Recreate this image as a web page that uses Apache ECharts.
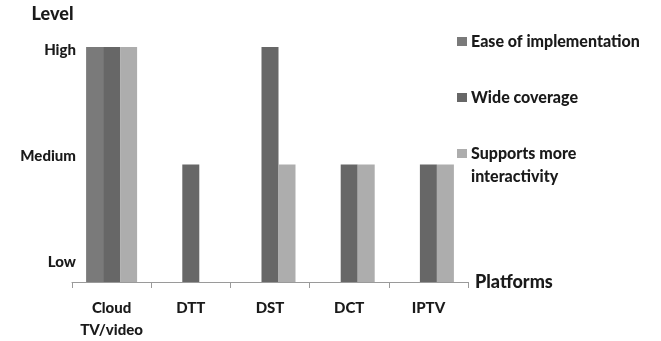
<!DOCTYPE html>
<html><head><meta charset="utf-8">
<script src="https://cdn.jsdelivr.net/npm/echarts@6/dist/echarts.min.js"></script>
<style>html,body{margin:0;padding:0;background:#fff}#c{width:661px;height:341px}</style>
</head><body><div id="c"></div>
<script>
const categories = ['Cloud\nTV/video', 'DTT', 'DST', 'DCT', 'IPTV'];
const levelLabels = ['Low', 'Medium', 'High'];
const seriesNames = ['Ease of implementation', 'Wide coverage', 'Supports more interactivity'];
const easeOfImplementation = [2, 0, 0, 0, 0];
const wideCoverage = [2, 1, 2, 1, 1];
const supportsInteractivity = [2, 0, 1, 1, 1];
const colors = ['#7a7a7a', '#676767', '#adadad'];

const font = 'Lato, "Open Sans", sans-serif';
const txt = '#1a1a1a';
const fw = 900;
const chart = echarts.init(document.getElementById('c'));
const values = [easeOfImplementation, wideCoverage, supportsInteractivity];
const legendText = {
  'Ease of implementation': '\u00a0\nEase of implementation\n\u00a0',
  'Wide coverage': '\u00a0\nWide coverage\n\u00a0',
  'Supports more interactivity': '\u00a0\nSupports more\ninteractivity'
};
chart.setOption({
  animation: false,
  textStyle: {fontFamily: font},
  grid: [
    {left: 72, right: 193, top: 47, bottom: 56},
    {left: 85, right: 193, top: 50, bottom: 79}
  ],
  legend: {
    orient: 'vertical', left: 457, top: 7, padding: 0,
    itemWidth: 10, itemHeight: 9, itemGap: -13,
    icon: 'rect',
    data: seriesNames,
    formatter: n => legendText[n],
    textStyle: {fontFamily: font, fontSize: 16, fontWeight: fw, color: txt, lineHeight: 23, padding: [0,0,0,-1]}
  },
  xAxis: [
    {type: 'category', gridIndex: 0, data: categories,
     axisLine: {lineStyle: {color: '#9a9a9a'}},
     axisTick: {show: true, length: 6, interval: 0, lineStyle: {color: '#9a9a9a'}},
     axisLabel: {interval: 0, margin: 15, fontSize: 15, fontWeight: fw, color: txt, lineHeight: 22, fontFamily: font},
     name: 'Platforms', nameLocation: 'end', nameGap: 7,
     nameTextStyle: {fontSize: 18, fontWeight: fw, color: txt, padding: [24,0,0,0], fontFamily: font}},
    {type: 'value', gridIndex: 1, show: false}
  ],
  yAxis: [
    {type: 'value', gridIndex: 0, min: 0, max: 2, interval: 1, show: false},
    {type: 'category', gridIndex: 1, data: levelLabels, boundaryGap: false,
     axisLine: {show: false}, axisTick: {show: false}, splitLine: {show: false},
     axisLabel: {interval: 0, margin: 9, fontSize: 15, fontWeight: fw, color: txt, fontFamily: font},
     name: 'Level', nameLocation: 'end', nameGap: 27,
     nameTextStyle: {fontSize: 18, fontWeight: fw, color: txt, padding: [0,65,0,0], fontFamily: font}}
  ],
  series: seriesNames.map((n, i) => ({
    name: n, type: 'bar', xAxisIndex: 0, yAxisIndex: 0,
    data: values[i], barWidth: 17, barGap: '0%',
    itemStyle: {color: colors[i]}
  }))
});
</script></body></html>
